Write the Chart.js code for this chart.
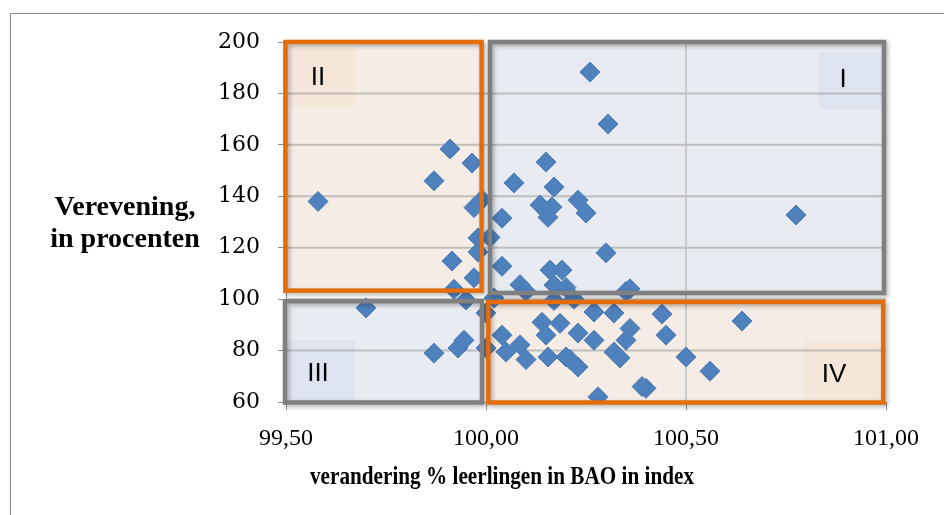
<!DOCTYPE html>
<html>
<head>
<meta charset="utf-8">
<script src="https://cdn.jsdelivr.net/npm/chart.js@4.4.0/dist/chart.umd.min.js"></script>
<style>
  html, body { margin: 0; padding: 0; background: #fff; overflow: hidden; }
  #wrap { position: relative; width: 944px; height: 515px; }
</style>
</head>
<body>
<div id="wrap"><canvas id="chart" width="944" height="515"></canvas></div>
<script>
// data
const xValues = [99.58, 99.70, 99.87, 99.87, 99.91, 99.965, 99.97, 99.99, 100.04, 99.98,
    100.01, 99.98, 99.915, 100.04, 99.97, 99.92, 99.95, 100.085, 100.10, 99.93,
    99.945, 100.04, 100.05, 100.085, 100.10, 100.00, 100.00, 100.02, 100.15, 100.17,
    100.135, 100.165, 100.155, 100.23, 100.25, 100.30, 100.305, 100.26, 100.07, 100.16,
    100.19, 100.17, 100.20, 100.22, 100.17, 100.35, 100.36, 100.27, 100.32, 100.14,
    100.185, 100.15, 100.23, 100.27, 100.36, 100.35, 100.155, 100.20, 100.21, 100.23,
    100.32, 100.335, 100.28, 100.40, 100.39, 100.50, 100.56, 100.64, 100.44, 100.45,
    100.775];
const yValues = [138, 96.6, 79, 146, 158.4, 152.9, 135.6, 138.7, 131.5, 123.8,
    124, 118.3, 114.8, 112.8, 108.3, 103.8, 99.7, 105.6, 103, 81,
    84, 86, 79.4, 82.2, 76.5, 81, 94.6, 100.4, 153.3, 143.6,
    136.6, 135.8, 131.8, 138.5, 133.5, 118, 168.1, 188.3, 145.2, 111.3,
    111.3, 105.5, 104.5, 100, 99.5, 103, 104, 95, 94.6, 91,
    90.6, 86, 86.8, 84, 88.6, 84, 77.5, 77.5, 76.5, 73.6,
    79.4, 77.1, 62, 65.3, 66, 77.5, 72, 91.5, 94.2, 86,
    132.7];
const xTicks = [99.5, 100, 100.5, 101];
const yTicks = [60, 80, 100, 120, 140, 160, 180, 200];
const xTitle = 'verandering % leerlingen in BAO in index';
const yTitle = ['Verevening,', 'in procenten'];
const quadrantNames = ['I', 'II', 'III', 'IV'];

const points = xValues.map((x, i) => ({ x: x, y: yValues[i] }));

// quadrant boxes in data units
const boxes = [
    { name: quadrantNames[0], x0: 100.01, x1: 100.995, y0: 102.4, y1: 200, fill: 'rgba(228,233,240,0.85)', line: '#808080',
      lab: [100.8325, 100.995, 173.9, 196.1], labFill: 'rgba(215,224,236,0.6)', tx: 100.8925, ty: 185.2 },
    { name: quadrantNames[1], x0: 99.4985, x1: 99.989, y0: 103.3, y1: 200, fill: 'rgba(243,233,225,0.85)', line: '#e46c0a',
      lab: [99.51, 99.6725, 174.7, 198.0], labFill: 'rgba(244,226,208,0.6)', tx: 99.58, ty: 186 },
    { name: quadrantNames[2], x0: 99.4975, x1: 99.99, y0: 59.8, y1: 99.2, fill: 'rgba(228,233,240,0.85)', line: '#808080',
      lab: [99.5025, 99.6725, 60, 84.1], labFill: 'rgba(215,224,236,0.6)', tx: 99.58, ty: 71 },
    { name: quadrantNames[3], x0: 100.0058, x1: 100.993, y0: 59.8, y1: 98.9, fill: 'rgba(243,233,225,0.85)', line: '#e46c0a',
      lab: [100.7925, 100.985, 60.8, 83.3], labFill: 'rgba(244,226,208,0.6)', tx: 100.87, ty: 70.6 }
];

function rectOf(sx, sy, x0, x1, y0, y1) {
    const l = sx.getPixelForValue(x0), r = sx.getPixelForValue(x1);
    const t = sy.getPixelForValue(y1), b = sy.getPixelForValue(y0);
    return [l, t, r - l, b - t];
}

const quadrantPlugin = {
    id: 'quadrants',
    beforeDraw(chart) {
        const ctx = chart.ctx;
        // outer chart frame
        ctx.save();
        ctx.strokeStyle = '#8c8c8c';
        ctx.lineWidth = 1;
        ctx.beginPath();
        ctx.moveTo(10.5, 600);
        ctx.lineTo(10.5, 13.5);
        ctx.lineTo(1000, 13.5);
        ctx.stroke();
        ctx.restore();
    },
    beforeDatasetsDraw(chart) {
        const ctx = chart.ctx, sx = chart.scales.x, sy = chart.scales.y;
        ctx.save();
        boxes.forEach(b => {
            ctx.fillStyle = b.fill;
            ctx.fillRect(...rectOf(sx, sy, b.x0, b.x1, b.y0, b.y1));
            ctx.fillStyle = b.labFill;
            ctx.fillRect(...rectOf(sx, sy, b.lab[0], b.lab[1], b.lab[2], b.lab[3]));
        });
        // redraw gridlines faintly through the boxes
        ctx.strokeStyle = 'rgba(170,170,170,0.7)';
        ctx.lineWidth = 2;
        yTicks.forEach(v => {
            if (v === 60 || v === 200) return;
            const y = sy.getPixelForValue(v);
            ctx.beginPath();
            ctx.moveTo(chart.chartArea.left, y);
            ctx.lineTo(chart.chartArea.right, y);
            ctx.stroke();
        });
        ctx.strokeStyle = 'rgba(195,195,195,0.8)';
        const gx = sx.getPixelForValue(100.5);
        ctx.beginPath();
        ctx.moveTo(gx, chart.chartArea.top);
        ctx.lineTo(gx, chart.chartArea.bottom);
        ctx.stroke();
        ctx.restore();
    },
    afterDatasetsDraw(chart) {
        const ctx = chart.ctx, sx = chart.scales.x, sy = chart.scales.y;
        ctx.save();
        boxes.forEach(b => {
            ctx.shadowColor = 'rgba(0,0,0,0.3)';
            ctx.shadowBlur = 4;
            ctx.shadowOffsetX = 2;
            ctx.shadowOffsetY = 2;
            ctx.strokeStyle = b.line;
            ctx.lineWidth = 4.5;
            ctx.strokeRect(...rectOf(sx, sy, b.x0, b.x1, b.y0, b.y1));
            ctx.shadowColor = 'transparent';
            ctx.fillStyle = '#000';
            ctx.font = '26px "Liberation Sans"';
            ctx.textAlign = 'center';
            ctx.textBaseline = 'middle';
            ctx.fillText(b.name, sx.getPixelForValue(b.tx), sy.getPixelForValue(b.ty));
        });
        // titles
        const area = chart.chartArea;
        ctx.font = 'bold 28px "Liberation Serif"';
        ctx.fillStyle = '#000';
        ctx.textAlign = 'center';
        ctx.textBaseline = 'middle';
        ctx.fillText(yTitle[0], area.left - 161, 208, 146);
        ctx.fillText(yTitle[1], area.left - 161, 240, 156);
        ctx.font = 'bold 25px "Liberation Serif"';
        ctx.fillText(xTitle, 502, 478, 384);
        ctx.restore();
    }
};

const ctx = document.getElementById('chart').getContext('2d');
const chart = new Chart(ctx, {
    type: 'scatter',
    data: {
        datasets: [{
            data: points,
            pointStyle: 'rectRot',
            pointRadius: 10,
            pointHoverRadius: 10,
            backgroundColor: '#4f81bd',
            borderColor: '#4a7ab4',
            borderWidth: 1
        }]
    },
    options: {
        responsive: false,
        animation: false,
        layout: { padding: { top: 42, right: 58, bottom: 0, left: 0 } },
        plugins: {
            legend: { display: false },
            tooltip: { enabled: false }
        },
        scales: {
            x: {
                type: 'linear',
                min: 99.5,
                max: 101,
                afterBuildTicks: (scale) => { scale.ticks = xTicks.map(v => ({ value: v })); },
                afterFit: (scale) => { scale.height = 113; },
                ticks: {
                    color: '#000',
                    padding: 14,
                    font: { family: '"Liberation Serif"', size: 24 },
                    callback: (v) => v.toFixed(2).replace('.', ',')
                },
                grid: { color: 'rgba(0,0,0,0)', tickColor: '#8c8c8c', tickLength: 8, drawOnChartArea: false },
                border: { color: '#8c8c8c' }
            },
            y: {
                type: 'linear',
                min: 60,
                max: 200,
                afterBuildTicks: (scale) => { scale.ticks = yTicks.map(v => ({ value: v })); },
                afterFit: (scale) => { scale.width = 286; },
                ticks: {
                    color: '#000',
                    padding: 18,
                    font: { family: '"DejaVu Serif"', size: 22 }
                },
                grid: { color: 'rgba(0,0,0,0)', tickColor: '#8c8c8c', tickLength: 8, drawOnChartArea: false },
                border: { color: '#8c8c8c' }
            }
        }
    },
    plugins: [quadrantPlugin]
});
</script>
</body>
</html>
